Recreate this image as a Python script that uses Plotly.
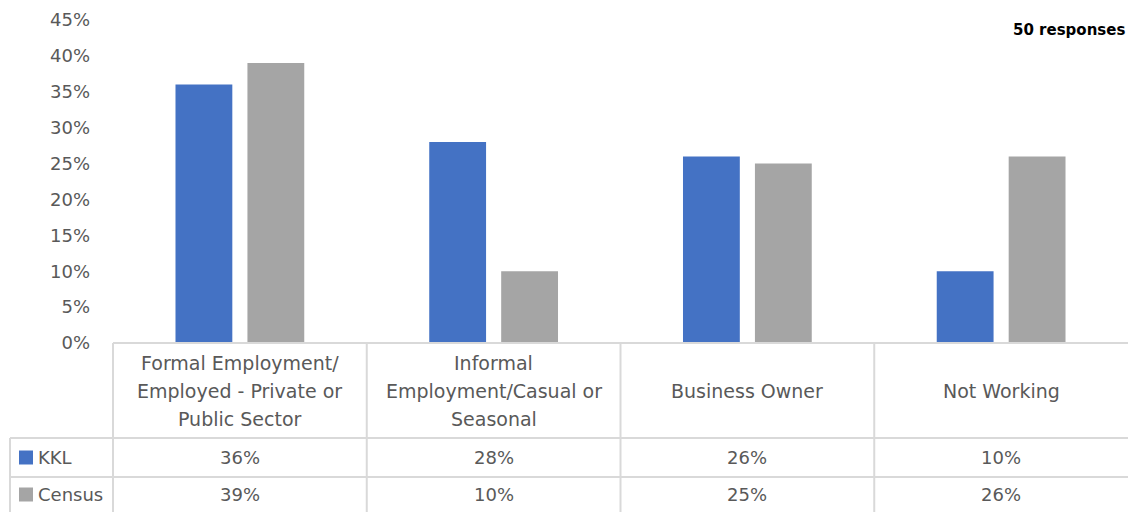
import plotly.graph_objects as go

# Employment status by source
categories = [
    "Formal Employment/<br>Employed - Private or<br>Public Sector",
    "Informal<br>Employment/Casual or<br>Seasonal",
    "Business Owner",
    "Not Working",
]
series_names = ["KKL", "Census"]
kkl_values = [0.36, 0.28, 0.26, 0.10]
census_values = [0.39, 0.10, 0.25, 0.26]
y_ticks = [0, 0.05, 0.10, 0.15, 0.20, 0.25, 0.30, 0.35, 0.40, 0.45]
note_text = "50 responses"

colors = ["#4472C4", "#A5A5A5"]
text_color = "#595959"
grid_color = "#D9D9D9"
font_family = "DejaVu Sans"
font_size = 18

W, H = 1128, 512
L, T, B = 113, 20, 169          # plot area in pixels
PW, PH = W - L, H - T - B


def px_x(px):
    return (px - L) / PW


def px_y(py):
    return (H - B - py) / PH


fig = go.Figure()
for name, vals, col in zip(series_names, [kkl_values, census_values], colors):
    fig.add_trace(go.Bar(x=categories, y=vals, name=name, marker_color=col,
                         marker_line_width=0))

# Data table beneath the chart
row_top = H - B
header_bottom = 438
row1_bottom = 477
row2_bottom = 512
line = dict(color=grid_color, width=2)
shapes = []
# horizontal rules
shapes.append(dict(type="line", xref="paper", yref="paper", x0=0, x1=1,
                   y0=0, y1=0, line=line))
for py in (header_bottom, row1_bottom):
    shapes.append(dict(type="line", xref="paper", yref="paper",
                       x0=px_x(10), x1=1, y0=px_y(py), y1=px_y(py), line=line))
# vertical rules between columns
n = len(categories)
for i in range(n):
    xp = i / n
    shapes.append(dict(type="line", xref="paper", yref="paper", x0=xp, x1=xp,
                       y0=0, y1=px_y(row2_bottom), line=line))
shapes.append(dict(type="line", xref="paper", yref="paper", x0=px_x(10), x1=px_x(10),
                   y0=px_y(header_bottom), y1=px_y(row2_bottom), line=line))

cell_font = dict(size=font_size, color=text_color, family=font_family)
header_font = dict(size=19, color=text_color, family=font_family)
annotations = []

# header cells: one annotation per text line, 28 px apart
header_mid = (row_top + header_bottom) / 2
line_step = 28
for cat in categories:
    parts = cat.split("<br>")
    k = len(parts)
    for j, part in enumerate(parts):
        py = header_mid + (j - (k - 1) / 2) * line_step
        annotations.append(dict(x=cat, xref="x", y=px_y(py), yref="paper", text=part,
                                showarrow=False, xanchor="center", yanchor="middle",
                                font=header_font))

row_mids = [(header_bottom + row1_bottom) / 2, (row1_bottom + row2_bottom) / 2]
for name, vals, col, mid in zip(series_names, [kkl_values, census_values], colors, row_mids):
    ym = px_y(mid)
    shapes.append(dict(type="rect", xref="paper", yref="paper",
                       x0=px_x(19), x1=px_x(33), y0=px_y(mid - 7), y1=px_y(mid + 7),
                       fillcolor=col, line_width=0))
    annotations.append(dict(x=px_x(36), xref="paper", y=ym, yref="paper", text=name,
                            xanchor="left", yanchor="middle", showarrow=False,
                            font=cell_font))
    for cat, v in zip(categories, vals):
        annotations.append(dict(x=cat, xref="x", y=ym, yref="paper", text=f"{v:.0%}",
                                xanchor="center", yanchor="middle", showarrow=False,
                                font=cell_font))

annotations.append(dict(x=px_x(1127), xref="paper", y=px_y(30), yref="paper",
                        text=f"<b>{note_text}</b>", xanchor="right", yanchor="middle",
                        showarrow=False,
                        font=dict(size=15, color="#000000", family=font_family)))

fig.update_layout(
    width=W, height=H,
    margin=dict(l=L, r=0, t=T, b=B, pad=0),
    paper_bgcolor="white", plot_bgcolor="white",
    barmode="group", bargap=0.433, bargroupgap=0.21,
    showlegend=False,
    shapes=shapes, annotations=annotations,
    font=dict(family=font_family, color=text_color),
)
fig.update_xaxes(showticklabels=False, showgrid=False, zeroline=False, showline=False,
                 ticks="")
fig.update_yaxes(range=[0, 0.45], tickvals=y_ticks, tickformat=".0%", showgrid=False,
                 zeroline=False, showline=False, ticks="", ticklabelstandoff=22,
                 tickfont=dict(size=font_size, color=text_color, family=font_family))

fig.write_html("out.html")
